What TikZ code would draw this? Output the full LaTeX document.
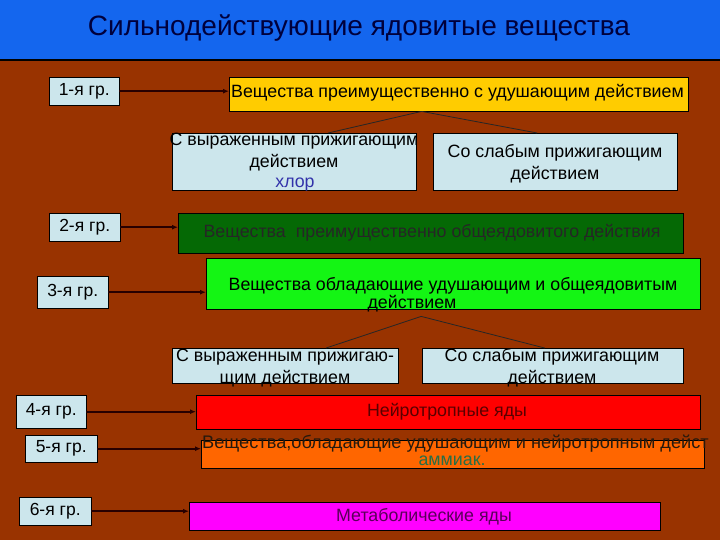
\documentclass[tikz,border=0pt]{standalone}
\usepackage{fontspec}
\setmainfont{Liberation Sans}
\usetikzlibrary{arrows.meta}
\definecolor{titleblue}{RGB}{20,102,238}
\definecolor{titlenavy}{RGB}{0,0,60}
\definecolor{brownbg}{RGB}{153,51,0}
\definecolor{grpblue}{RGB}{204,230,236}
\definecolor{yellowbox}{RGB}{255,204,0}
\definecolor{darkgreenbox}{RGB}{5,105,5}
\definecolor{limebox}{RGB}{20,245,20}
\definecolor{orangebox}{RGB}{255,102,0}
\definecolor{redbox}{RGB}{255,0,0}
\definecolor{magentabox}{RGB}{255,0,255}
\definecolor{arrowdark}{RGB}{40,0,0}
\definecolor{chlorblue}{RGB}{50,50,170}
\definecolor{ammgreen}{RGB}{40,110,70}
\tikzset{
  grp/.style={draw=black, fill=grpblue, inner sep=0pt, anchor=north west,
    font=\fontsize{17.5}{17.5}\selectfont},
  kind/.style={draw=black, inner sep=0pt, anchor=north west},
  txt/.style={inner sep=0pt, font=\fontsize{17.8}{17.8}\selectfont},
  arr/.style={draw=arrowdark, line width=1.6pt, -{Latex[length=6pt,width=5pt]}},
  link/.style={draw=black!85, line width=0.8pt}
}
\begin{document}
\begin{tikzpicture}[x=1pt,y=-1pt]
\useasboundingbox (0,0) rectangle (720,540);
\fill[brownbg] (0,0) rectangle (720,540);
\fill[titleblue] (0,0) rectangle (720,59);
\draw[line width=2pt] (0,60) -- (720,60);
\node[txt, font=\fontsize{28}{28}\selectfont, text=titlenavy] (title) at (359,28) {Сильнодействующие ядовитые вещества};

% 1-я группа
\node[grp, minimum width=70pt, minimum height=28pt] (g1) at (49,77) {1-я гр.};
\node[kind, fill=yellowbox, minimum width=459pt, minimum height=34pt] (b1) at (229,77) {};
\node[txt, anchor=west] (b1t) at (231,93) {Вещества преимущественно с удушающим действием};
\node[kind, fill=grpblue, minimum width=244pt, minimum height=57pt] (s1l) at (172,133) {};
\node[kind, fill=grpblue, minimum width=244pt, minimum height=57pt] (s1r) at (433,133) {};
\node[txt, align=center] (s1lt) at (294,152) {С выраженным прижигающим\\[4pt]действием};
\node[txt, text=chlorblue] (chlor) at (295,185) {хлор};
\node[txt, align=center] (s1rt) at (555,164) {Со слабым прижигающим\\[4pt]действием};
\draw[arr] (g1.east) -- (g1.east -| b1.west);
\draw[link] ([xshift=-37pt]b1.south) -- ([xshift=34pt]s1l.north);
\draw[link] ([xshift=-37pt]b1.south) -- ([xshift=-18pt]s1r.north);

% 2-я группа
\node[grp, minimum width=71pt, minimum height=28pt] (g2) at (49,213) {2-я гр.};
\node[kind, fill=darkgreenbox, minimum width=505pt, minimum height=40pt] (b2) at (178,213) {};
\node[txt, text=black!85] (b2t) at (432,233) {Вещества~ преимущественно общеядовитого действия};
\draw[arr] (g2.east) -- (g2.east -| b2.west);

% 3-я группа
\node[grp, minimum width=71pt, minimum height=32pt] (g3) at (37,276) {3-я гр.};
\node[kind, fill=limebox, minimum width=494pt, minimum height=51pt] (b3) at (206,258) {};
\node[txt] (b3t) at (453,286) {Вещества обладающие удушающим и общеядовитым};
\node[txt] (b3u) at (412,304) {действием};
\node[kind, fill=grpblue, minimum width=226pt, minimum height=35pt] (s3l) at (172,348) {};
\node[kind, fill=grpblue, minimum width=261pt, minimum height=35pt] (s3r) at (422,348) {};
\node[txt, align=center] (s3lt) at (285,368) {С выраженным прижигаю-\\[4pt]щим действием};
\node[txt, align=center] (s3rt) at (552,368) {Со слабым прижигающим\\[4pt]действием};
\draw[arr] (g3.east) -- (g3.east -| b3.west);
\draw[link] ([xshift=-32pt]b3.south) ++(0,7) -- ([xshift=41pt]s3l.north);
\draw[link] ([xshift=-32pt]b3.south) ++(0,7) -- ([xshift=-8pt]s3r.north);

% 4-я группа
\node[grp, minimum width=70pt, minimum height=33pt] (g4) at (16,395) {4-я гр.};
\node[kind, fill=redbox, minimum width=504pt, minimum height=34pt] (b4) at (196,395) {};
\node[txt, text=redbox!35!black] (b4t) at (447,412) {Нейротропные яды};
\draw[arr] (g4.east) -- (g4.east -| b4.west);

% 5-я группа
\node[grp, minimum width=72pt, minimum height=27pt] (g5) at (25,435) {5-я гр.};
\node[kind, fill=orangebox, minimum width=503pt, minimum height=28pt] (b5) at (201,440) {};
\node[txt, anchor=west, text=black!80!brown, font=\fontsize{18.2}{18.2}\selectfont] (b5t) at (202,444) {Вещества,обладающие удушающим и нейротропным дейст};
\node[txt, text=ammgreen] (amm) at (452,461) {аммиак.};
\draw[arr] (g5.east) -- (g5.east -| b5.west);

% 6-я группа
\node[grp, minimum width=72pt, minimum height=28pt] (g6) at (19,497) {6-я гр.};
\node[kind, fill=magentabox, minimum width=471pt, minimum height=28pt] (b6) at (189,502) {};
\node[txt, text=magentabox!35!black] (b6t) at (424,517) {Метаболические яды};
\draw[arr] (g6.east) -- (g6.east -| b6.west);
\end{tikzpicture}
\end{document}
